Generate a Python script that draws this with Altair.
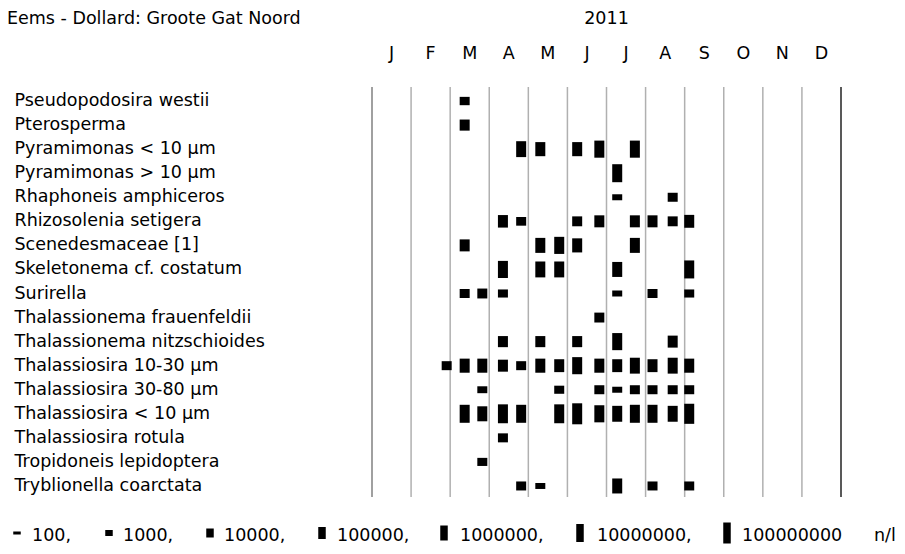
import calendar
import datetime as dt

import altair as alt
import pandas as pd

# ---------------- data ----------------
TITLE = "Eems - Dollard: Groote Gat Noord"
YEAR = "2011"
MONTHS = ["J", "F", "M", "A", "M", "J", "J", "A", "S", "O", "N", "D"]

SAMPLE_DATES = [
    "2011-02-26", "2011-03-12", "2011-03-26", "2011-04-11", "2011-04-25",
    "2011-05-10", "2011-05-25", "2011-06-08", "2011-06-25", "2011-07-09",
    "2011-07-23", "2011-08-06", "2011-08-22", "2011-09-04",
]

SPECIES = [
    "Pseudopodosira westii",
    "Pterosperma",
    "Pyramimonas < 10 µm",
    "Pyramimonas > 10 µm",
    "Rhaphoneis amphiceros",
    "Rhizosolenia setigera",
    "Scenedesmaceae [1]",
    "Skeletonema cf. costatum",
    "Surirella",
    "Thalassionema frauenfeldii",
    "Thalassionema nitzschioides",
    "Thalassiosira 10-30 µm",
    "Thalassiosira 30-80 µm",
    "Thalassiosira < 10 µm",
    "Thalassiosira rotula",
    "Tropidoneis lepidoptera",
    "Tryblionella coarctata",
]

# cells per n/l, one column per sample date (0 = not found)
COUNTS = [
    [0, 6e3, 0, 0, 0, 0, 0, 0, 0, 0, 0, 0, 0, 0],
    [0, 5e4, 0, 0, 0, 0, 0, 0, 0, 0, 0, 0, 0, 0],
    [0, 0, 0, 0, 2e6, 5e5, 0, 5e5, 5e6, 0, 5e6, 0, 0, 0],
    [0, 0, 0, 0, 0, 0, 0, 0, 0, 1e7, 0, 0, 0, 0],
    [0, 0, 0, 0, 0, 0, 0, 0, 0, 1e3, 0, 0, 1e4, 0],
    [0, 0, 0, 1.5e5, 8e3, 0, 0, 2e4, 1e5, 0, 1e5, 1e5, 2e4, 2e5],
    [0, 1e5, 0, 0, 0, 1e6, 5e6, 5e5, 0, 0, 1e6, 0, 0, 0],
    [0, 0, 0, 5e6, 0, 2e6, 2e6, 0, 0, 1e6, 0, 0, 0, 1e7],
    [0, 1e4, 2e4, 5e3, 0, 0, 0, 0, 0, 1e3, 0, 1e4, 0, 5e3],
    [0, 0, 0, 0, 0, 0, 0, 0, 2e4, 0, 0, 0, 0, 0],
    [0, 0, 0, 5e4, 0, 5e4, 0, 5e4, 0, 5e6, 0, 0, 1e5, 0],
    [1e4, 5e5, 5e5, 1e5, 1e4, 5e5, 2e5, 5e6, 5e5, 2e5, 2e6, 2e5, 2e6, 5e5],
    [0, 0, 2e3, 0, 0, 0, 5e3, 0, 1e4, 1e3, 1e4, 1e4, 1e4, 1e4],
    [0, 1e7, 1e6, 2e7, 1e7, 0, 2e7, 1e8, 5e6, 2e6, 1e7, 1e7, 2e6, 5e7],
    [0, 0, 0, 1e4, 0, 0, 0, 0, 0, 0, 0, 0, 0, 0],
    [0, 0, 5e3, 0, 0, 0, 0, 0, 0, 0, 0, 0, 0, 0],
    [0, 0, 0, 0, 1e4, 1e3, 0, 0, 0, 1e6, 0, 1e4, 0, 1e4],
]

LEGEND_VALUES = [1e2, 1e3, 1e4, 1e5, 1e6, 1e7, 1e8]
LEGEND_LABELS = ["100,", "1000,", "10000,", "100000,", "1000000,", "10000000,", "100000000"]
UNIT = "n/l"

# ---------------- layout / style ----------------
FONT = "DejaVu Sans"
FS = 17.5
PLOT_W, PLOT_H = 469, 410
PAD = {"left": 364, "top": 79, "right": 56, "bottom": 49}
LEFT, TOP = 372, 87  # page position of plot origin
LEG_BAR_X = [17, 109, 210, 322, 444, 580, 727]
LEG_TEXT_X = [32, 123, 224, 337, 460, 597, 742]
UNIT_X = 874
SIZE_DOMAIN = [1e2, 1e8]
SIZE_RANGE = [3, 21]


def month_pos(s):
    d = dt.date.fromisoformat(s)
    dim = calendar.monthrange(d.year, d.month)[1]
    return (d.month - 1) + (d.day - 0.5) / dim


rows = []
for sp, vals in zip(SPECIES, COUNTS):
    for date, v in zip(SAMPLE_DATES, vals):
        if v > 0:
            rows.append({"species": sp, "pos": month_pos(date), "value": v})
obs = pd.DataFrame(rows)

xscale = alt.Scale(domain=[0, 12], nice=False, zero=False)
sscale = alt.Scale(type="log", domain=SIZE_DOMAIN, range=SIZE_RANGE)

bars = alt.Chart(obs).mark_tick(
    orient="vertical", thickness=10, color="black", opacity=1
).encode(
    x=alt.X("pos:Q", scale=xscale, axis=None),
    y=alt.Y(
        "species:N",
        sort=SPECIES,
        scale=alt.Scale(range=[2, 411], paddingInner=0, paddingOuter=0),
        axis=alt.Axis(
            title=None, labelAlign="left", labelPadding=LEFT - 14, ticks=False,
            tickSize=0, domain=False, grid=False, labelFont=FONT, labelFontSize=FS,
            labelColor="black", labelLimit=0, labelBaseline="middle",
        ),
    ),
    size=alt.Size("value:Q", scale=sscale, legend=None),
)

bounds = pd.DataFrame({"b": list(range(13))})
bounds["kind"] = ["left"] + ["inner"] * 11 + ["right"]


def rules(kind, color, width):
    return alt.Chart(bounds[bounds.kind == kind]).mark_rule(
        color=color, strokeWidth=width
    ).encode(
        x=alt.X("b:Q", scale=xscale, axis=None),
        y=alt.value(0),
        y2=alt.value(PLOT_H),
    )


grid = rules("inner", "#b0b0b0", 1.5) + rules("left", "#808080", 1.5) + rules("right", "#222222", 1.5)

mdf = pd.DataFrame({"m": MONTHS, "c": [i + 0.5 for i in range(12)]})
months = alt.Chart(mdf).mark_text(
    font=FONT, fontSize=FS, color="black", baseline="alphabetic", align="center"
).encode(x=alt.X("c:Q", scale=xscale, axis=None), y=alt.value(58.5 - TOP), text="m:N")

year = alt.Chart(pd.DataFrame({"t": [YEAR], "c": [6]})).mark_text(
    font=FONT, fontSize=FS, color="black", baseline="alphabetic", align="center"
).encode(x=alt.X("c:Q", scale=xscale, axis=None), y=alt.value(24 - TOP), text="t:N")

title = alt.Chart(pd.DataFrame({"t": [TITLE]})).mark_text(
    font=FONT, fontSize=FS, color="black", baseline="alphabetic", align="left"
).encode(x=alt.value(7 - LEFT), y=alt.value(23.5 - TOP), text="t:N")

leg = pd.DataFrame({
    "value": LEGEND_VALUES,
    "label": LEGEND_LABELS,
    "bx": [x - LEFT for x in LEG_BAR_X],
    "tx": [x - LEFT for x in LEG_TEXT_X],
})
leg_bars = alt.Chart(leg).mark_tick(
    orient="vertical", thickness=7.5, color="black", opacity=1
).encode(
    x=alt.X("bx:Q", scale=None),
    y=alt.value(533 - TOP),
    size=alt.Size("value:Q", scale=sscale, legend=None),
)
leg_text = alt.Chart(leg).mark_text(
    font=FONT, fontSize=FS, color="black", baseline="alphabetic", align="left"
).encode(x=alt.X("tx:Q", scale=None), y=alt.value(540.7 - TOP), text="label:N")
unit = alt.Chart(pd.DataFrame({"t": [UNIT]})).mark_text(
    font=FONT, fontSize=FS, color="black", baseline="alphabetic", align="left"
).encode(x=alt.value(UNIT_X - LEFT), y=alt.value(540.7 - TOP), text="t:N")

chart = alt.layer(
    grid, bars, months, year, title, leg_bars, leg_text, unit
).properties(
    width=PLOT_W, height=PLOT_H, padding=PAD, autosize=alt.AutoSizeParams(type="none"),
    background="white",
).configure_view(stroke=None)

chart.save("out.html", embed_options={"renderer": "svg", "actions": False})
